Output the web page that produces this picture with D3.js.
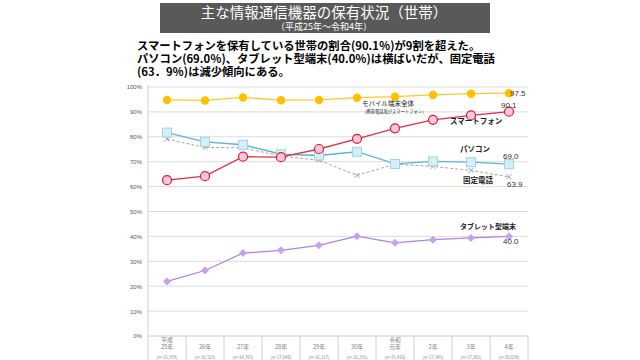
<!DOCTYPE html>
<html><head><meta charset="utf-8">
<script src="https://cdn.jsdelivr.net/npm/d3@7"></script>
<style>body{margin:0;background:#fff}svg{display:block;font-family:"Noto Sans CJK JP","Noto Sans",sans-serif}</style>
</head><body><svg id="c" width="640" height="360"></svg>
<script>
const categories = ["平成\n25年","26年","27年","28年","29年","30年","令和\n元年","2年","3年","4年"];
const nLabels = ["(n=15,599)","(n=16,529)","(n=14,765)","(n=17,040)","(n=16,117)","(n=16,255)","(n=15,410)","(n=17,345)","(n=17,365)","(n=20,030)"];
const mobile = [94.8,94.6,95.8,94.7,94.8,95.7,96.1,96.8,97.3,97.5];
const smartphone = [62.6,64.2,72.0,71.8,75.1,79.2,83.4,86.8,88.6,90.1];
const pc = [81.7,78.0,76.8,73.0,72.5,74.0,69.1,70.1,69.8,69.0];
const fixedPhone = [79.1,75.7,75.6,72.2,70.6,64.5,69.0,68.1,66.5,63.9];
const tablet = [21.9,26.3,33.3,34.4,36.4,40.1,37.4,38.7,39.4,40.0];
const yTicks = [0,10,20,30,40,50,60,70,80,90,100];

const svg = d3.select("#c");
const L=148,R=528,T=87,B=336;
const x = d3.scaleBand().domain(categories).range([L,R]);
const y = d3.scaleLinear().domain([0,100]).range([B,T]);
const cx = d => x(d)+x.bandwidth()/2;

// title banner
svg.append("rect").attr("x",160).attr("y",3).attr("width",330).attr("height",30).attr("fill","#595959");
svg.append("text").attr("x",324).attr("y",18).attr("text-anchor","middle").attr("fill","#fff").attr("font-size",14.5).text("主な情報通信機器の保有状況（世帯）");
svg.append("text").attr("x",324).attr("y",30).attr("text-anchor","middle").attr("fill","#fff").attr("font-size",9).text("（平成25年～令和4年）");

// headline (one text block, three lines)
const hl = ["スマートフォンを保有している世帯の割合(90.1％)が9割を超えた。","パソコン(69.0％)、タブレット型端末(40.0％)は横ばいだが、固定電話","(63．9％)は減少傾向にある。"];
const ht = svg.append("text").attr("font-size",11.3).attr("font-weight","bold").attr("fill","#000");
hl.forEach((t,i)=>ht.append("tspan").attr("x",137).attr("y",50+i*13.2).text(t));

// grid
svg.append("g").selectAll("line").data(yTicks).join("line")
  .attr("x1",L).attr("x2",R).attr("y1",d=>y(d)).attr("y2",d=>y(d))
  .attr("stroke",d=>d===0?"#c8c8c8":"#dcdcdc").attr("stroke-width",1);
svg.append("line").attr("x1",L).attr("x2",L).attr("y1",T-2).attr("y2",B).attr("stroke","#d0d0d0");
const yAxis = svg.append("g").attr("transform",`translate(${L-4},0)`)
  .call(d3.axisLeft(y).tickValues(yTicks).tickFormat(d=>d+"%").tickSize(0).tickPadding(2));
yAxis.select(".domain").remove();
yAxis.selectAll("text").attr("font-size",6).attr("fill","#595959").attr("font-family","Liberation Sans, sans-serif");

// x axis separators
const seps = categories.map(c=>x(c)).concat([R]);
svg.append("g").selectAll("line").data(seps).join("line")
  .attr("x1",d=>d).attr("x2",d=>d).attr("y1",B).attr("y2",360).attr("stroke","#d0d0d0");
const xl = svg.append("g");
categories.forEach((c,i)=>{
  const parts=c.split("\n");
  const t=xl.append("text").attr("text-anchor","middle").attr("font-size",5.8).attr("fill","#7f7f7f");
  const y0 = parts.length===2?342:349;
  parts.forEach((p,j)=>t.append("tspan").attr("x",cx(c)).attr("y",y0+j*7).text(p));
  xl.append("text").attr("x",cx(c)).attr("y",359).attr("text-anchor","middle").attr("font-size",4.3).attr("fill","#7f7f7f").text(nLabels[i]);
});

const line = d3.line().x((d,i)=>cx(categories[i])).y(d=>y(d));
function series(data,color,opts={}){
  svg.append("path").datum(data).attr("d",line).attr("fill","none").attr("stroke",color).attr("stroke-width",opts.w||1.3).attr("stroke-dasharray",opts.dash||null);
}
series(fixedPhone,"#a6a6a6",{dash:"3,2",w:1});
svg.append("g").selectAll("path").data(fixedPhone).join("path")
  .attr("d",(d,i)=>{const X=cx(categories[i]),Y=y(d),s=2.5;return `M${X-s},${Y-s}L${X+s},${Y+s}M${X-s},${Y+s}L${X+s},${Y-s}`;})
  .attr("stroke","#a6a6a6").attr("stroke-width",1);

series(pc,"#5bb8cc");
svg.append("g").selectAll("rect").data(pc).join("rect")
  .attr("x",(d,i)=>cx(categories[i])-4.5).attr("y",d=>y(d)-4.5).attr("width",9).attr("height",9)
  .attr("fill","#d6eef6").attr("stroke","#9fd3e3").attr("stroke-width",1);

series(mobile,"#ffc82a");
svg.append("g").selectAll("circle").data(mobile).join("circle")
  .attr("cx",(d,i)=>cx(categories[i])).attr("cy",d=>y(d)).attr("r",4.2).attr("fill","#ffc000");

series(smartphone,"#e0303c");
svg.append("g").selectAll("circle").data(smartphone).join("circle")
  .attr("cx",(d,i)=>cx(categories[i])).attr("cy",d=>y(d)).attr("r",4.5).attr("fill","#f8c6e2").attr("stroke","#d8202e").attr("stroke-width",1.2);

series(tablet,"#b080e6");
svg.append("g").selectAll("path").data(tablet).join("path")
  .attr("d",(d,i)=>{const X=cx(categories[i]),Y=y(d),s=4;return `M${X},${Y-s}L${X+s},${Y}L${X},${Y+s}L${X-s},${Y}Z`;})
  .attr("fill","#c6a0f2");

// labels
const lab=(t,X,Y,fs,fw)=>svg.append("text").attr("x",X).attr("y",Y).attr("font-size",fs).attr("font-weight",fw||"normal").attr("fill","#222").text(t);
lab("モバイル端末全体",362,106,6.5);
lab("（携帯電話及びスマートフォン）",362,112.5,4.3);
lab("スマートフォン",450,124,7.5,"bold");
lab("パソコン",460,152,7.5,"bold");
lab("固定電話",463,183,7.5,"bold");
lab("タブレット型端末",460,229,7,"bold");
const val=(t,X,Y)=>svg.append("text").attr("x",X).attr("y",Y).attr("font-size",8).attr("fill","#333").attr("font-family","Liberation Sans, sans-serif").text(t);
val("97.5",510,96);
val("90.1",501,108);
val("69.0",503,159);
val("63.9",507,187);
val("40.0",503,244);
</script></body></html>
